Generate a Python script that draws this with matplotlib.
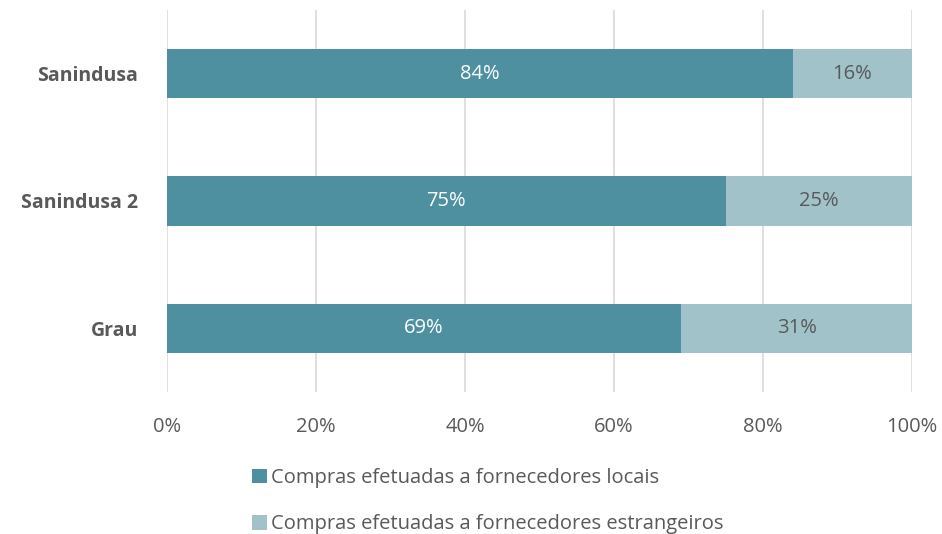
import matplotlib.pyplot as plt
import numpy as np

companies = ["Grau", "Sanindusa 2", "Sanindusa"]
local = [69, 75, 84]
foreign = [31, 25, 16]
x_ticks = [0, 20, 40, 60, 80, 100]
labels = ["Compras efetuadas a fornecedores locais",
          "Compras efetuadas a fornecedores estrangeiros"]

font = "Open Sans"
text_color = "#595959"
dark = "#4E8FA0"
light = "#A1C2C9"
fs = 14.5

fig = plt.figure(figsize=(9.42, 5.34), dpi=100)
ax = fig.add_axes([167 / 942, 1 - 392 / 534, (912 - 167) / 942, 382 / 534])

y = np.arange(len(companies))
b1 = ax.barh(y, local, height=0.39, color=dark, label=labels[0])
b2 = ax.barh(y, foreign, left=local, height=0.39, color=light, label=labels[1])

for i in range(len(companies)):
    ax.text(local[i] / 2, y[i], f"{local[i]}%", ha="center", va="center",
            color="white", fontsize=fs, fontname=font)
    ax.text(local[i] + foreign[i] / 2, y[i], f"{foreign[i]}%", ha="center", va="center",
            color=text_color, fontsize=fs, fontname=font)

ax.set_xlim(0, 100)
ax.set_ylim(-0.5, 2.5)
ax.set_xticks(x_ticks)
ax.set_xticklabels([f"{t}%" for t in x_ticks], fontsize=fs, fontname=font, color=text_color)
ax.set_yticks(y)
ax.set_yticklabels(companies, fontsize=14, fontname=font, fontweight="bold", color=text_color)
ax.tick_params(axis="both", length=0)
ax.tick_params(axis="x", pad=18)
ax.tick_params(axis="y", pad=21)

ax.set_axisbelow(True)
ax.grid(axis="x", color="#D9D9D9", linewidth=1.2)
for s in ax.spines.values():
    s.set_visible(False)

fig.legend(handles=[b1, b2], loc="upper left", bbox_to_anchor=(234 / 942, 1 - 450 / 534),
           frameon=False, ncol=1, labelspacing=1.3, handlelength=0.75, handleheight=0.75,
           handletextpad=0.2, prop={"family": font, "size": fs}, labelcolor=text_color)

fig.savefig("out.png", dpi=100)
